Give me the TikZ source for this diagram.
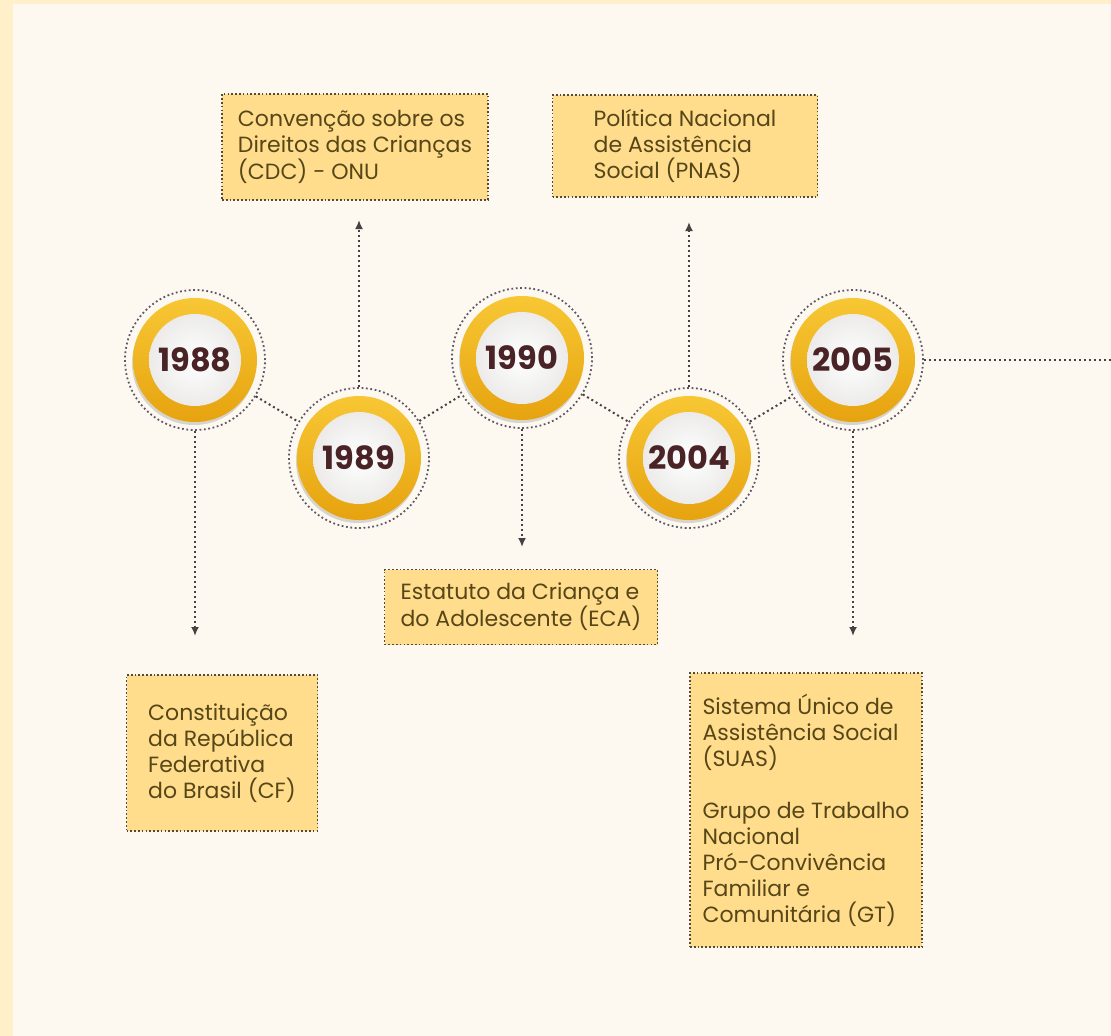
\documentclass[tikz,border=0pt]{standalone}
\usepackage{fontspec}
\setmainfont{Poppins}
\usetikzlibrary{arrows.meta,shadows}
\definecolor{bgouter}{HTML}{FFF0C9}
\definecolor{bginner}{HTML}{FDF9F1}
\definecolor{halogray}{HTML}{5E5868}
\definecolor{ringlight}{HTML}{F8C734}
\definecolor{ringdark}{HTML}{E6A30F}
\definecolor{coreedge}{HTML}{ECEBEA}
\definecolor{yeartext}{HTML}{4A2326}
\definecolor{linkgray}{HTML}{4A4044}
\definecolor{boxline}{HTML}{544A3A}
\definecolor{boxfill}{HTML}{FFDD8C}
\definecolor{boxtext}{HTML}{564618}
\begin{document}
\begin{tikzpicture}[x=1pt,y=-1pt,
    yearhalo/.style={circle, draw=halogray, line width=1.8pt,
        dash pattern=on 1.8pt off 2.6pt, minimum size=140pt, inner sep=0pt},
    yearring/.style={circle, minimum size=124pt, inner sep=0pt,
        top color=ringlight, bottom color=ringdark,
        drop shadow={shadow xshift=-1pt, shadow yshift=-3pt, opacity=0.3, fill=black!50}},
    yearcore/.style={circle, minimum size=92pt, inner sep=0pt,
        inner color=white, outer color=coreedge, text=yeartext,
        font=\bfseries\fontsize{32}{32}\selectfont},
    linkline/.style={draw=linkgray, line width=2pt, dash pattern=on 2pt off 3pt},
    stemline/.style={linkline, -{Latex[length=9pt,width=8pt]}},
    eventbox/.style={draw=boxline, line width=1.7pt, dash pattern=on 1.7pt off 2.1pt,
        fill=boxfill, align=left, text=boxtext,
        font=\fontsize{22}{26}\selectfont, inner sep=0pt}]
    \fill[bgouter] (0,0) rectangle (1111,1036);
    \fill[bginner] (13,4) rectangle (1111,1036);
    \useasboundingbox (0,0) rectangle (1111,1036);
    % years
    \node[yearhalo] (h88) at (195,360) {};
    \node[yearring] at (h88) {};
    \node[yearcore] (y88) at (h88) {1988};
    \node[yearhalo] (h89) at (359,458) {};
    \node[yearring] at (h89) {};
    \node[yearcore] (y89) at (h89) {1989};
    \node[yearhalo] (h90) at (522,358) {};
    \node[yearring] at (h90) {};
    \node[yearcore] (y90) at (h90) {1990};
    \node[yearhalo] (h04) at (689,458) {};
    \node[yearring] at (h04) {};
    \node[yearcore] (y04) at (h04) {2004};
    \node[yearhalo] (h05) at (853,360) {};
    \node[yearring] at (h05) {};
    \node[yearcore] (y05) at (h05) {2005};
    % events
    \node[eventbox, minimum width=266pt, minimum height=106pt] (cdc) at (355,147)
        {Convenção sobre os\\Direitos das Crianças\\(CDC) - ONU};
    \node[eventbox, minimum width=265pt, minimum height=102pt] (pnas) at (685,146)
        {Política Nacional\\de Assistência\\Social (PNAS)};
    \node[eventbox, minimum width=273pt, minimum height=75pt] (eca) at (521,607)
        {Estatuto da Criança e\\do Adolescente (ECA)};
    \node[eventbox, minimum width=191pt, minimum height=156pt] (cf) at (222,753)
        {Constituição\\da República\\Federativa\\do Brasil (CF)};
    \node[eventbox, minimum width=232pt, minimum height=274pt] (suas) at (806,810)
        {Sistema Único de\\Assistência Social\\(SUAS)\\[26pt]Grupo de Trabalho\\Nacional\\Pró-Convivência\\Familiar e\\Comunitária (GT)};
    \coordinate (t88) at (195,636);
    \coordinate (t89) at (359,220);
    \coordinate (t90) at (522,547);
    \coordinate (t04) at (689,222);
    \coordinate (t05) at (853,636);
    \coordinate (e05) at (1111,360);
    % connectors
    \draw[linkline] (h88) -- (h89);
    \draw[linkline] (h89) -- (h90);
    \draw[linkline] (h90) -- (h04);
    \draw[linkline] (h04) -- (h05);
    \draw[linkline] (h05) -- (e05);
    \draw[stemline] (h88) -- (t88);
    \draw[stemline] (h89) -- (t89);
    \draw[stemline] (h90) -- (t90);
    \draw[stemline] (h04) -- (t04);
    \draw[stemline] (h05) -- (t05);
\end{tikzpicture}
\end{document}
